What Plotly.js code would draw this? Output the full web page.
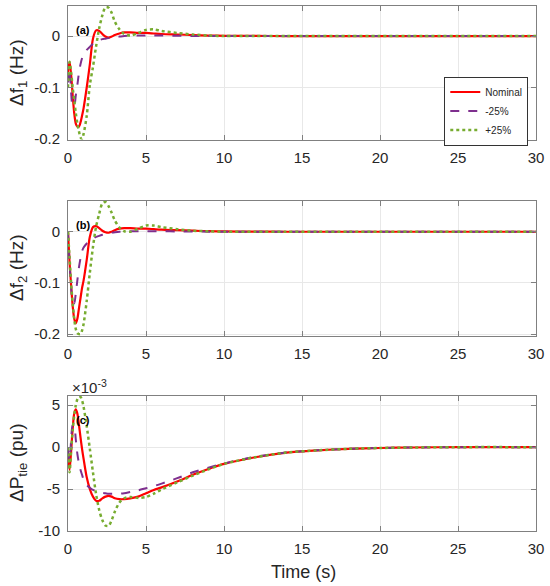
<!DOCTYPE html>
<html>
<head>
<meta charset="utf-8">
<script src="https://cdn.plot.ly/plotly-3.0.1.min.js"></script>
<style>html,body{margin:0;padding:0;background:#fff;}#chart{width:550px;height:586px;}</style>
</head>
<body>
<div id="chart"></div>
<script>
// time samples (s)
var time = [0, 0.1, 0.2, 0.3, 0.4, 0.5, 0.6, 0.7, 0.8, 0.9, 1.0, 1.2, 1.4, 1.6, 1.8, 2.0, 2.2, 2.4, 2.6, 2.8, 3.0, 3.3, 3.6, 4, 4.5, 5, 5.5, 6, 7, 8, 9, 10, 12, 14, 16, 18, 20, 22, 25, 30];

// Δf1 (Hz)
var f1_nominal = [-0.07, -0.05, -0.075, -0.115, -0.15, -0.17, -0.176, -0.176, -0.168, -0.155, -0.14, -0.1, -0.055, -0.005, 0.011, 0.01, 0.004, -0.001, -0.003, -0.001, 0.002, 0.005, 0.007, 0.007, 0.006, 0.006, 0.005, 0.004, 0.003, 0.002, 0.001, 0.0005, 0.0002, 0, 0, 0, 0, 0, 0, 0];
var f1_minus25 = [-0.09, -0.065, -0.11, -0.135, -0.135, -0.115, -0.095, -0.072, -0.055, -0.043, -0.035, -0.027, -0.021, -0.015, -0.011, -0.008, -0.006, -0.005, -0.004, -0.003, -0.002, -0.001, 0, 0.001, 0.001, 0.001, 0.001, 0.001, 0.0005, 0.0003, 0.0002, 0.0001, 0, 0, 0, 0, 0, 0, 0, 0];
var f1_plus25 = [-0.1, -0.05, -0.07, -0.1, -0.125, -0.15, -0.17, -0.185, -0.197, -0.2, -0.19, -0.155, -0.095, -0.06, -0.02, 0.015, 0.04, 0.056, 0.055, 0.045, 0.028, 0.013, 0.004, 0.001, 0.006, 0.012, 0.013, 0.01, 0.006, 0.003, 0.001, 0, 0, 0, 0, 0, 0, 0, 0, 0];

// Δf2 (Hz)
var f2_nominal = [0, -0.06, -0.105, -0.145, -0.17, -0.179, -0.17, -0.15, -0.13, -0.11, -0.095, -0.055, -0.01, 0.009, 0.011, 0.007, 0.002, -0.001, -0.002, 0, 0.003, 0.006, 0.007, 0.007, 0.006, 0.006, 0.005, 0.004, 0.003, 0.002, 0.001, 0.0005, 0.0002, 0, 0, 0, 0, 0, 0, 0];
var f2_minus25 = [0, -0.06, -0.11, -0.135, -0.14, -0.12, -0.095, -0.07, -0.052, -0.038, -0.031, -0.023, -0.018, -0.014, -0.01, -0.008, -0.006, -0.004, -0.003, -0.002, -0.001, 0, 0, 0.001, 0.001, 0.001, 0.001, 0.001, 0.0005, 0.0003, 0.0002, 0.0001, 0, 0, 0, 0, 0, 0, 0, 0];
var f2_plus25 = [0, -0.05, -0.1, -0.14, -0.17, -0.19, -0.198, -0.2, -0.2, -0.193, -0.18, -0.135, -0.08, -0.03, 0.01, 0.035, 0.055, 0.058, 0.05, 0.037, 0.022, 0.008, 0.001, 0, 0.006, 0.012, 0.012, 0.009, 0.005, 0.002, 0.001, 0, 0, 0, 0, 0, 0, 0, 0, 0];

// ΔPtie (pu, x10^-3)
var ptie_nominal = [-0.5, -2.7, -0.5, 2.2, 4.0, 4.5, 4.0, 2.7, 1.2, -0.2, -1.4, -3.6, -5.0, -5.9, -6.4, -6.4, -6.1, -5.9, -5.8, -5.9, -6.1, -6.2, -6.2, -6.1, -5.9, -5.5, -5.1, -4.8, -4.1, -3.3, -2.6, -2.0, -1.2, -0.65, -0.38, -0.2, -0.1, -0.04, 0, 0];
var ptie_minus25 = [-0.3, -1.5, 0.8, 2.6, 2.5, 0.9, -0.8, -1.9, -2.7, -3.3, -3.9, -4.5, -4.85, -5.1, -5.25, -5.35, -5.45, -5.5, -5.55, -5.55, -5.55, -5.55, -5.5, -5.35, -5.15, -4.9, -4.65, -4.35, -3.7, -3.0, -2.45, -1.95, -1.15, -0.65, -0.38, -0.2, -0.1, -0.04, 0, 0];
var ptie_plus25 = [0, -3.0, -0.5, 2.0, 3.8, 5.0, 5.7, 6.0, 6.0, 5.6, 4.8, 2.5, -0.2, -3.0, -5.6, -7.5, -8.7, -9.35, -9.4, -8.7, -7.7, -6.6, -6.1, -5.95, -6.05, -5.95, -5.55, -5.05, -4.2, -3.4, -2.65, -2.0, -1.2, -0.65, -0.38, -0.2, -0.1, -0.04, 0, 0];

var seriesNames = ['Nominal', '-25%', '+25%'];
var xTicks = [0, 5, 10, 15, 20, 25, 30];
var fTickVals = [-0.2, -0.1, 0];
var fTickText = ['-0.2', '-0.1', '0'];
var pTickVals = [-10, -5, 0, 5];
var pTickText = ['-10', '-5', '0', '5'];

var colors = ['#ff0000', '#7e2f8e', '#77ac30'];
var dashes = ['solid', 'dash', 'dot'];
var widths = [2.2, 2, 2.5];

var panels = [
  [f1_nominal, f1_minus25, f1_plus25],
  [f2_nominal, f2_minus25, f2_plus25],
  [ptie_nominal, ptie_minus25, ptie_plus25]
];

var traces = [];
panels.forEach(function (set, p) {
  set.forEach(function (vals, s) {
    traces.push({
      x: time, y: vals, type: 'scatter', mode: 'lines',
      name: seriesNames[s],
      showlegend: p === 0,
      xaxis: p === 0 ? 'x' : 'x' + (p + 1),
      yaxis: p === 0 ? 'y' : 'y' + (p + 1),
      line: {color: colors[s], dash: dashes[s], width: widths[s], shape: 'spline', smoothing: 0.8}
    });
  });
});

var H = 586;
function dom(topPx, botPx) { return [1 - botPx / H, 1 - topPx / H]; }
var FF = 'Liberation Sans, Arial, sans-serif';
var font = {family: FF, size: 15, color: '#262626'};

function xa(anchor) {
  return {
    anchor: anchor, range: [0, 30], tickvals: xTicks, ticktext: xTicks.map(String),
    showgrid: true, gridcolor: '#e8e8e8', zeroline: false,
    showline: true, linecolor: '#808080', linewidth: 1, mirror: 'ticks',
    ticks: 'inside', ticklen: 5, tickcolor: '#808080', tickfont: font, ticklabelstandoff: 4
  };
}
function ya(anchor, domain, range, tv, tt) {
  return {
    anchor: anchor, domain: domain, range: range, tickvals: tv, ticktext: tt,
    showgrid: true, gridcolor: '#e8e8e8', zeroline: false,
    showline: true, linecolor: '#808080', linewidth: 1, mirror: 'ticks',
    ticks: 'inside', ticklen: 5, tickcolor: '#808080', tickfont: font, ticklabelstandoff: 4
  };
}

var layout = {
  width: 550, height: 586,
  margin: {l: 68, r: 14, t: 0, b: 0},
  paper_bgcolor: '#fff', plot_bgcolor: '#fff',
  font: font,
  xaxis: xa('y'),
  xaxis2: xa('y2'),
  xaxis3: xa('y3'),
  yaxis: ya('x', dom(5.7, 139.5), [-0.201, 0.059], fTickVals, fTickText),
  yaxis2: ya('x2', dom(201, 335.7), [-0.203, 0.06], fTickVals, fTickText),
  yaxis3: ya('x3', dom(396, 531), [-10, 6.1], pTickVals, pTickText),
  legend: {
    x: 0.9835, y: 1 - 111 / H, xanchor: 'right', yanchor: 'middle',
    bgcolor: '#ffffff', bordercolor: '#333333', borderwidth: 1,
    font: {family: FF, size: 10, color: '#262626'},
    tracegroupgap: 0, itemwidth: 30
  },
  annotations: [
    {xref: 'paper', yref: 'paper', x: (18 - 68) / 468, y: 1 - 73 / H, text: 'Δf<sub>1</sub> (Hz)', textangle: -90, showarrow: false, xanchor: 'center', yanchor: 'middle', font: {family: FF, size: 19, color: '#262626'}},
    {xref: 'paper', yref: 'paper', x: (18 - 68) / 468, y: 1 - 268 / H, text: 'Δf<sub>2</sub> (Hz)', textangle: -90, showarrow: false, xanchor: 'center', yanchor: 'middle', font: {family: FF, size: 19, color: '#262626'}},
    {xref: 'paper', yref: 'paper', x: (18 - 68) / 468, y: 1 - 463 / H, text: 'ΔP<sub>tie</sub> (pu)', textangle: -90, showarrow: false, xanchor: 'center', yanchor: 'middle', font: {family: FF, size: 19, color: '#262626'}},
    {xref: 'paper', yref: 'paper', x: (303 - 68) / 468, y: 1 - 572 / H, text: 'Time (s)', showarrow: false, xanchor: 'center', yanchor: 'middle', font: {family: FF, size: 18, color: '#262626'}},
    {xref: 'paper', yref: 'paper', x: (70 - 68) / 468, y: 1 - 386 / H, text: '×10<sup>-3</sup>', showarrow: false, xanchor: 'left', yanchor: 'middle', font: {family: FF, size: 15, color: '#262626'}},
    {xref: 'x', yref: 'y', x: 0.38, y: 0.0125, text: '<b>(a)</b>', showarrow: false, xanchor: 'left', yanchor: 'middle', font: {family: FF, size: 11, color: '#000'}},
    {xref: 'x2', yref: 'y2', x: 0.38, y: 0.014, text: '<b>(b)</b>', showarrow: false, xanchor: 'left', yanchor: 'middle', font: {family: FF, size: 11, color: '#000'}},
    {xref: 'x3', yref: 'y3', x: 0.38, y: 3.25, text: '<b>(c)</b>', showarrow: false, xanchor: 'left', yanchor: 'middle', font: {family: FF, size: 11, color: '#000'}}
  ]
};

Plotly.newPlot('chart', traces, layout, {displayModeBar: false, staticPlot: true});
</script>
</body>
</html>
